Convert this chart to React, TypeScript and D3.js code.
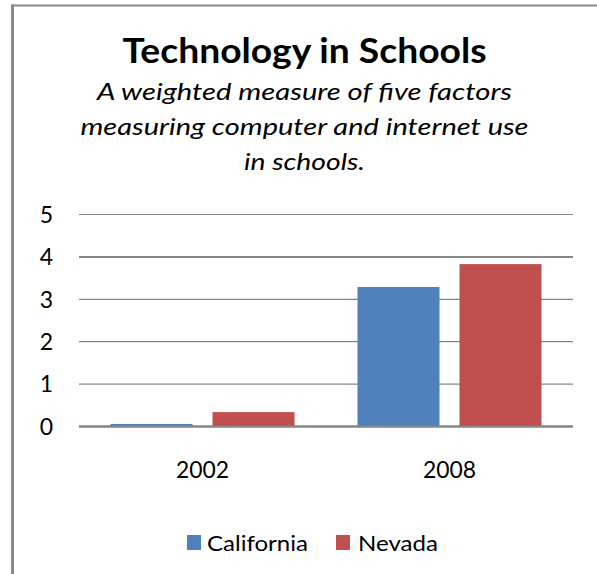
import React from "react";
import * as d3 from "d3";

// Chart data
const categories = ["2002", "2008"];
const seriesNames = ["California", "Nevada"];
const californiaValues = [0.06, 3.29];
const nevadaValues = [0.34, 3.83];
const yTicks = [0, 1, 2, 3, 4, 5];
const seriesColors = ["#4F81BD", "#C0504D"];

const title = "Technology in Schools";
const subtitleLines = [
  "A weighted measure of five factors",
  "measuring computer and internet use",
  "in schools.",
];

const W = 597;
const H = 574;
const FONT = "Lato, 'Open Sans', 'Noto Sans', sans-serif";

export default function App() {
  const plotLeft = 79;
  const plotRight = 573;
  const yScale = d3.scaleLinear().domain([0, 5]).range([426.5, 214.5]);
  const x0 = d3
    .scaleBand<string>()
    .domain(categories)
    .range([plotLeft, plotRight])
    .paddingInner(0.255)
    .paddingOuter(0.1275);
  const x1 = d3
    .scaleBand<string>()
    .domain(seriesNames)
    .range([0, x0.bandwidth()])
    .paddingInner(0.196);

  const seriesValues = [californiaValues, nevadaValues];
  const bars = categories.flatMap((cat, ci) =>
    seriesNames.map((s, si) => ({
      key: `${cat}-${s}`,
      x: (x0(cat) ?? 0) + (x1(s) ?? 0),
      y: yScale(seriesValues[si][ci]),
      h: yScale(0) - yScale(seriesValues[si][ci]),
      color: seriesColors[si],
    }))
  );

  const subtitleWidths = [415, 448, 121];
  const subtitleBaselines = [100, 135, 170];

  const legendItems = [
    { name: seriesNames[0], sq: 187, tx: 207, tw: 101 },
    { name: seriesNames[1], sq: 336, tx: 358, tw: 80 },
  ];

  return (
    <svg
      width={W}
      height={H}
      style={{ position: "absolute", left: 0, top: 0, background: "#fff" }}
      fontFamily={FONT}
    >
      {/* frame */}
      <line x1={11} x2={597} y1={5.5} y2={5.5} stroke="#898989" strokeWidth={2} />
      <line x1={12.5} x2={12.5} y1={4.5} y2={574} stroke="#898989" strokeWidth={3} />

      {/* titles */}
      <text
        x={304.5}
        y={63}
        textAnchor="middle"
        fontSize={35}
        fontWeight={700}
        fill="#000"
        textLength={364}
        lengthAdjust="spacingAndGlyphs"
      >
        {title}
      </text>
      {subtitleLines.map((line, i) => (
        <text
          key={i}
          x={304.5}
          y={subtitleBaselines[i]}
          textAnchor="middle"
          fontSize={24}
          fontStyle="italic"
          fill="#000"
          textLength={subtitleWidths[i]}
          lengthAdjust="spacingAndGlyphs"
        >
          {line}
        </text>
      ))}

      {/* gridlines */}
      {yTicks.map((t) => (
        <line
          key={t}
          x1={plotLeft}
          x2={plotRight}
          y1={yScale(t)}
          y2={yScale(t)}
          stroke="#868686"
          strokeWidth={t === 0 || t === 4 ? 2 : 1.2}
        />
      ))}

      {/* y tick labels */}
      {yTicks.map((t) => (
        <text
          key={t}
          x={53}
          y={yScale(t)}
          dy="0.36em"
          textAnchor="end"
          fontSize={23}
          fill="#000"
        >
          {t}
        </text>
      ))}

      {/* bars */}
      {bars.map((b) => (
        <rect key={b.key} x={b.x} y={b.y} width={x1.bandwidth()} height={b.h} fill={b.color} />
      ))}
      <line
        x1={plotLeft}
        x2={plotRight}
        y1={yScale(0)}
        y2={yScale(0)}
        stroke="#868686"
        strokeWidth={2}
      />

      {/* category labels */}
      {categories.map((c) => (
        <text
          key={c}
          x={(x0(c) ?? 0) + x0.bandwidth() / 2}
          y={478}
          textAnchor="middle"
          fontSize={24}
          fill="#000"
          textLength={53}
          lengthAdjust="spacingAndGlyphs"
        >
          {c}
        </text>
      ))}

      {/* legend */}
      {legendItems.map((item, i) => (
        <g key={item.name}>
          <rect x={item.sq} y={535} width={14} height={15} fill={seriesColors[i]} />
          <text
            x={item.tx}
            y={550.5}
            fontSize={22}
            fill="#000"
            textLength={item.tw}
            lengthAdjust="spacingAndGlyphs"
          >
            {item.name}
          </text>
        </g>
      ))}
    </svg>
  );
}
